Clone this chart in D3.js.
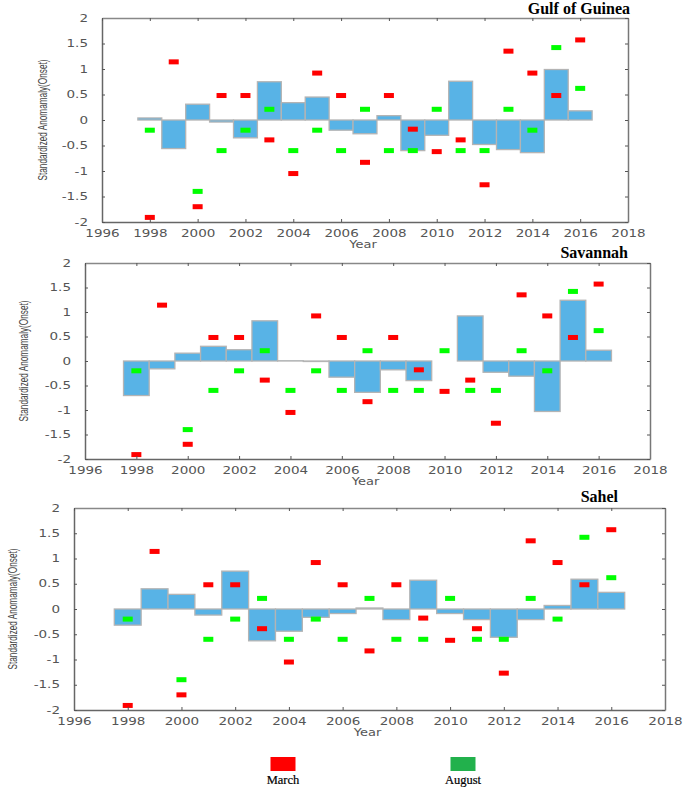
<!DOCTYPE html>
<html>
<head>
<meta charset="utf-8">
<script src="https://cdn.jsdelivr.net/npm/d3@7"></script>
<style>
body { margin: 0; background: #fff; }
svg { display: block; }
</style>
</head>
<body>
<svg width="685" height="787"></svg>
<script>
// values
var years = [1998, 1999, 2000, 2001, 2002, 2003, 2004, 2005, 2006, 2007,
             2008, 2009, 2010, 2011, 2012, 2013, 2014, 2015, 2016];
var march = [-1.91, 1.14, -1.70, 0.48, 0.48, -0.39, -1.05, 0.92, 0.48, -0.83,
             0.48, -0.18, -0.62, -0.39, -1.27, 1.35, 0.92, 0.48, 1.57];
var august = [-0.2, null, -1.40, -0.6, -0.2, 0.21, -0.6, -0.2, -0.6, 0.21,
              -0.6, -0.6, 0.21, -0.6, -0.6, 0.21, -0.2, 1.42, 0.62];
var gulf = [0.04, -0.56, 0.31, -0.04, -0.35, 0.75, 0.34, 0.45, -0.2, -0.27,
            0.085, -0.6, -0.3, 0.76, -0.48, -0.58, -0.64, 0.99, 0.18];
var savannah = [-0.705, -0.16, 0.16, 0.30, 0.23, 0.82, 0.005, -0.01, -0.33, -0.64,
                -0.18, -0.40, 0, 0.92, -0.23, -0.31, -1.03, 1.24, 0.22];
var sahel = [-0.32, 0.40, 0.29, -0.12, 0.75, -0.63, -0.44, -0.165, -0.09, 0.02,
             -0.21, 0.57, -0.09, -0.21, -0.56, -0.21, 0.07, 0.59, 0.33];
var xTicks = [1996, 1998, 2000, 2002, 2004, 2006, 2008, 2010, 2012, 2014, 2016, 2018];
var yTicks = [-2, -1.5, -1, -0.5, 0, 0.5, 1, 1.5, 2];
var titles = ["Gulf of Guinea", "Savannah", "Sahel"];

var svg = d3.select("svg");

// panel boxes
var panels = [
  {bars: gulf, l: 102, r: 628, t: 18, b: 222, tx: 630, ty: 14, lx: 47},
  {bars: savannah, l: 85, r: 650, t: 263, b: 459, tx: 628, ty: 258, lx: 28},
  {bars: sahel, l: 74, r: 665, t: 508, b: 710, tx: 618, ty: 502, lx: 17}
];

// stretch text sideways like the original export
var stretch = function(sel, k){
  sel.each(function(){
    var w = this.getComputedTextLength();
    d3.select(this).attr("textLength", w * k).attr("lengthAdjust", "spacingAndGlyphs");
  });
};

panels.forEach(function(p, i){
  var x = d3.scaleLinear().domain([1996, 2018]).range([p.l, p.r]);
  var y = d3.scaleLinear().domain([-2, 2]).range([p.b, p.t]);
  var g = svg.append("g");

  // bars
  g.selectAll("rect.bar")
    .data(years.map(function(yr, j){ return {yr: yr, v: p.bars[j]}; }))
    .enter()
    .append("rect")
    .attr("class", "bar")
    .attr("x", function(d){ return x(d.yr - 0.5); })
    .attr("width", function(d){ return x(d.yr + 0.5) - x(d.yr - 0.5); })
    .attr("y", function(d){ return y(Math.max(0, d.v)); })
    .attr("height", function(d){ return Math.abs(y(d.v) - y(0)); })
    .style("fill", "#58b3e6")
    .style("stroke", "#b4b4b4")
    .style("stroke-width", 1.3);

  // markers
  var mk = function(vals, color){
    g.selectAll(null)
      .data(years.map(function(yr, j){ return {yr: yr, v: vals[j]}; })
             .filter(function(d){ return d.v !== null; }))
      .enter()
      .append("rect")
      .attr("x", function(d){ return x(d.yr) - 5; })
      .attr("y", function(d){ return y(d.v) - 2.5; })
      .attr("width", 10)
      .attr("height", 5)
      .style("fill", color);
  };
  mk(august, "#00ff00");
  mk(march, "#ff0000");

  // axes, ticks inside
  var fmt = function(d){ return String(d); };
  var ax = function(gen, tx, ty){
    var a = g.append("g").attr("transform", "translate(" + tx + "," + ty + ")").call(gen);
    a.select(".domain").attr("stroke", "#666").attr("stroke-width", 1.5);
    a.selectAll(".tick line").attr("stroke", "#555");
    return a;
  };
  var bx = ax(d3.axisBottom(x).tickValues(xTicks).tickSize(-3).tickPadding(6).tickFormat(fmt).tickSizeOuter(0), 0, p.b);
  var lx = ax(d3.axisLeft(y).tickValues(yTicks).tickSize(-3).tickPadding(14).tickFormat(fmt).tickSizeOuter(0), p.l, 0);
  var tx = ax(d3.axisTop(x).tickValues(xTicks).tickSize(-3).tickFormat("").tickSizeOuter(0), 0, p.t);
  var rx = ax(d3.axisRight(y).tickValues(yTicks).tickSize(-3).tickFormat("").tickSizeOuter(0), p.r, 0);
  tx.select(".domain").attr("stroke", "#888");
  rx.select(".domain").attr("stroke", "#777");

  [bx, lx].forEach(function(a){
    a.selectAll("text")
      .style("font-family", "DejaVu Sans")
      .style("font-size", "10px")
      .style("fill", "#555")
      .call(stretch, 1.35);
  });
  bx.selectAll("text").attr("dy", "0.85em");

  // title
  g.append("text")
    .attr("x", p.tx).attr("y", p.ty)
    .attr("text-anchor", "end")
    .style("font-family", "Liberation Serif")
    .style("font-weight", "bold")
    .style("font-size", "16px")
    .text(titles[i]);

  // axis titles
  g.append("text")
    .attr("transform", "translate(" + p.lx + "," + y(0) + ") rotate(-90)")
    .attr("text-anchor", "middle")
    .style("font-family", "Liberation Sans")
    .style("font-size", "12px")
    .style("fill", "#444")
    .attr("textLength", 121)
    .attr("lengthAdjust", "spacingAndGlyphs")
    .text("Standardized Anomamaly(Onset)");

  g.append("text")
    .attr("x", (p.l + p.r) / 2 - 2).attr("y", p.b + 26)
    .attr("text-anchor", "middle")
    .style("font-family", "DejaVu Sans")
    .style("font-size", "10px")
    .style("fill", "#555")
    .text("Year")
    .call(stretch, 1.3);
});

// legend
var legend = [{name: "March", color: "#ff0000", cx: 283}, {name: "August", color: "#22b14c", cx: 463}];
var lg = svg.selectAll("g.leg").data(legend).enter().append("g").attr("class", "leg");
lg.append("rect")
  .attr("x", function(d){ return d.cx - 12.5; })
  .attr("y", 757)
  .attr("width", 25)
  .attr("height", 14)
  .style("fill", function(d){ return d.color; });
lg.append("text")
  .attr("x", function(d){ return d.cx; })
  .attr("y", 784)
  .attr("text-anchor", "middle")
  .style("font-family", "Liberation Serif")
  .style("font-size", "12.5px")
  .style("stroke", "#000")
  .style("stroke-width", 0.2)
  .text(function(d){ return d.name; });
</script>
</body>
</html>
